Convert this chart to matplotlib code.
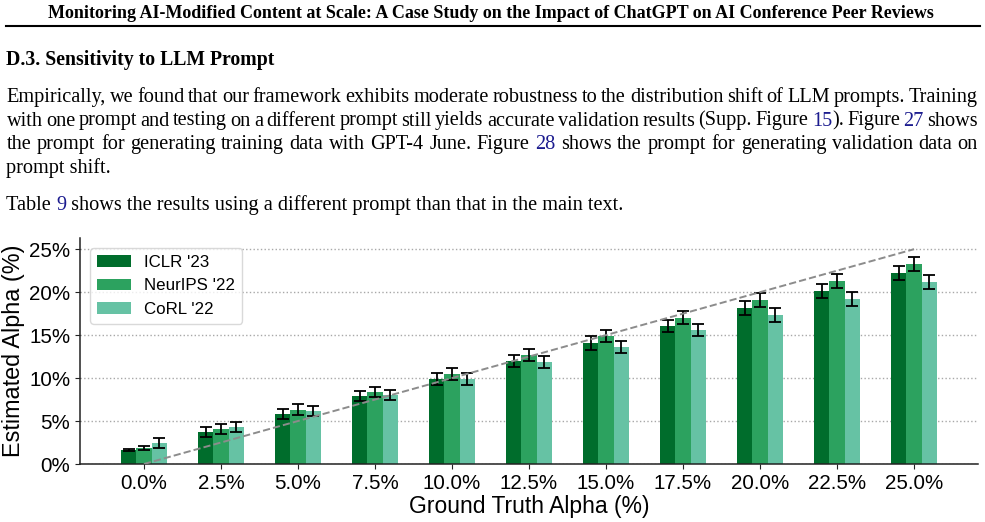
import matplotlib
matplotlib.use("Agg")
import matplotlib.pyplot as plt
import numpy as np
from matplotlib.transforms import IdentityTransform

# ---------------- data ----------------
alpha_labels = ["0.0%", "2.5%", "5.0%", "7.5%", "10.0%", "12.5%", "15.0%",
                "17.5%", "20.0%", "22.5%", "25.0%"]
ground_truth = [0, 2.5, 5, 7.5, 10, 12.5, 15, 17.5, 20, 22.5, 25]
series_names = ["ICLR '23", "NeurIPS '22", "CoRL '22"]
iclr = [1.63, 3.76, 5.81, 7.90, 9.88, 11.98, 14.10, 16.09, 18.18, 20.12, 22.25]
neurips = [1.90, 4.07, 6.32, 8.37, 10.47, 12.67, 14.92, 17.02, 19.07, 21.28, 23.30]
corl = [2.44, 4.34, 6.16, 8.02, 9.92, 11.90, 13.60, 15.58, 17.33, 19.23, 21.20]
iclr_err = [0.12, 0.58, 0.62, 0.62, 0.72, 0.74, 0.78, 0.70, 0.80, 0.81, 0.81]
neurips_err = [0.23, 0.62, 0.62, 0.62, 0.72, 0.72, 0.70, 0.78, 0.80, 0.80, 0.81]
corl_err = [0.60, 0.60, 0.62, 0.60, 0.72, 0.70, 0.72, 0.72, 0.81, 0.81, 0.80]
yticks = [0, 5, 10, 15, 20, 25]
ytick_labels = ["0%", "5%", "10%", "15%", "20%", "25%"]

header_text = ("Monitoring AI-Modified Content at Scale: A Case Study on the "
               "Impact of ChatGPT on AI Conference Peer Reviews")
section_text = "D.3. Sensitivity to LLM Prompt"
LINK = "#1c1c8f"
para_lines = [
    "Empirically, we found that our framework exhibits moderate robustness to the distribution shift of LLM prompts. Training",
    "with one prompt and testing on a different prompt still yields accurate validation results (Supp. Figure {15}). Figure {27} shows",
    "the prompt for generating training data with GPT-4 June. Figure {28} shows the prompt for generating validation data on",
    "prompt shift.",
]
table_line = "Table {9} shows the results using a different prompt than that in the main text."

# ---------------- figure ----------------
W, H = 985, 522
fig = plt.figure(figsize=(W / 100, H / 100), dpi=100)
renderer = fig.canvas.get_renderer()
SERIF = "Liberation Serif"


def measure(t, fs, weight="normal"):
    tx = fig.text(0, 0, t, fontsize=fs, family=SERIF, weight=weight,
                  transform=IdentityTransform())
    w = tx.get_window_extent(renderer).width
    tx.remove()
    return w


def parse_words(line):
    words = []
    for w in line.split(" "):
        pieces = []
        rest = w
        while rest:
            if "{" in rest:
                a, b = rest.split("{", 1)
                if a:
                    pieces.append((a, "black"))
                c, rest = b.split("}", 1)
                pieces.append((c, LINK))
            else:
                pieces.append((rest, "black"))
                rest = ""
        words.append(pieces)
    return words


def plain(line):
    return line.replace("{", "").replace("}", "")


def draw_line(line, x0, x1, ybase_img, fs, justify):
    words = parse_words(line)
    y = H - ybase_img
    if not justify:
        segs = []
        for i, w in enumerate(words):
            segs.extend(w)
            if i < len(words) - 1:
                segs.append((" ", "black"))
        merged = []
        for t, c in segs:
            if merged and merged[-1][1] == c:
                merged[-1] = (merged[-1][0] + t, c)
            else:
                merged.append((t, c))
        x = x0
        for t, c in merged:
            fig.text(x, y, t, fontsize=fs, family=SERIF, color=c,
                     va="baseline", ha="left", transform=IdentityTransform())
            x += measure(t.replace(" ", "\u00a0"), fs)
        return
    wwidths = [sum(measure(t, fs) for t, c in w) for w in words]
    gap = (x1 - x0 - sum(wwidths)) / (len(words) - 1)
    x = x0
    for w, ww in zip(words, wwidths):
        xx = x
        for t, c in w:
            fig.text(xx, y, t, fontsize=fs, family=SERIF, color=c,
                     va="baseline", ha="left", transform=IdentityTransform())
            xx += measure(t, fs)
        x += ww + gap


# header
hw = measure(header_text, 10, "bold")
hfs = 10 * 888 / hw
fig.text(491, H - 18.5, header_text, fontsize=hfs, family=SERIF, weight="bold",
         ha="center", va="baseline", transform=IdentityTransform())
fig.add_artist(plt.Line2D([6 / W, 980 / W], [1 - 26 / H, 1 - 26 / H],
                          color="black", linewidth=1.5, transform=fig.transFigure))

# section heading
sw = measure(section_text, 10, "bold")
sfs = 10 * 268 / sw
fig.text(6.5, H - 65, section_text, fontsize=sfs, family=SERIF, weight="bold",
         ha="left", va="baseline", transform=IdentityTransform())

# paragraph font size
tw = measure(plain(table_line), 10)
pfs = 10 * 618 / tw
baselines = [102, 125.5, 149, 172.5]
for i, ln in enumerate(para_lines):
    draw_line(ln, 6.5, 978, baselines[i], pfs, justify=(i < 3))
draw_line(table_line, 6.5, 978, 210, pfs, justify=False)

# ---------------- chart ----------------
ax = fig.add_axes([80 / W, 58 / H, (978 - 80) / W, (464 - 238) / H])
x = np.arange(len(ground_truth))
bw = 0.2
colors = ["#006d2c", "#2ca25f", "#66c2a4"]
vals = [iclr, neurips, corl]
errs = [iclr_err, neurips_err, corl_err]
for k in range(3):
    ax.bar(x + (k - 1) * bw, vals[k], bw, yerr=errs[k], color=colors[k],
           label=series_names[k], capsize=4.5,
           error_kw=dict(ecolor="black", elinewidth=1.3, capthick=1.3),
           zorder=2)
ax.plot(x, ground_truth, linestyle="--", color="#8c8c8c", linewidth=1.4, zorder=3)

ax.set_xlim(-0.83, 10.83)
ax.set_ylim(0, 26.3)
ax.set_xticks(x)
ax.set_xticklabels(alpha_labels, fontsize=14.8, family="Liberation Sans")
ax.set_yticks(yticks)
ax.set_yticklabels(ytick_labels, fontsize=14.8, family="Liberation Sans")
ax.set_xlabel("Ground Truth Alpha (%)", fontsize=16.5, family="Liberation Sans",
              labelpad=2)
ax.set_ylabel("Estimated Alpha (%)", fontsize=16.8, family="Liberation Sans",
              labelpad=3)
ax.yaxis.grid(True, linestyle=":", color="#a8a8a8", linewidth=1.0, zorder=0)
ax.set_axisbelow(True)
for s in ["top", "right"]:
    ax.spines[s].set_visible(False)
for s in ["left", "bottom"]:
    ax.spines[s].set_color("#222222")
    ax.spines[s].set_linewidth(1.1)
ax.tick_params(colors="#222222", labelcolor="black")
leg = ax.legend(loc="upper left", prop=dict(family="Liberation Sans", size=12.2),
                frameon=True, fancybox=True, edgecolor="#d0d0d0",
                borderaxespad=0.6)

fig.savefig("out.png", dpi=100)
